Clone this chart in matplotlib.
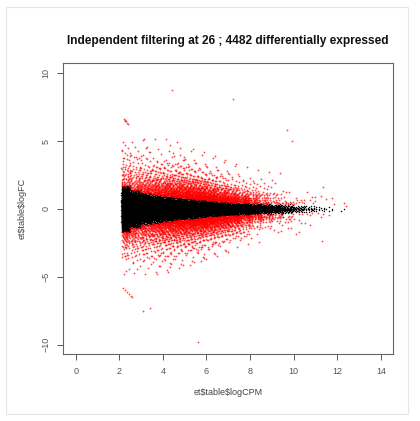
import numpy as np
import matplotlib
matplotlib.use('Agg')
import matplotlib.pyplot as plt
from matplotlib.patches import Rectangle

plt.rcParams['font.family'] = ['Liberation Sans', 'DejaVu Sans']

TITULO = "Independent filtering at 26 ; 4482 differentially expressed"

# Bins de logCPM (bordes) y resumen de la nube por bin
bin_lo = [2.1, 2.5, 3.0, 3.5, 4.0, 4.5, 5.0, 5.5, 6.0, 6.5, 7.0,
          7.5, 8.0, 8.5, 9.0, 9.5, 10.0, 10.5, 11.0, 11.5, 12.0]
bin_hi = [2.5, 3.0, 3.5, 4.0, 4.5, 5.0, 5.5, 6.0, 6.5, 7.0, 7.5,
          8.0, 8.5, 9.0, 9.5, 10.0, 10.5, 11.0, 11.5, 12.0, 12.4]
# genes no DE (negro) por bin
n_negro = [1700, 1300, 1050, 950, 850, 780, 700, 620, 540, 470, 400,
           330, 260, 190, 130, 85, 50, 28, 14, 6, 2]
# genes DE (rojo) por bin
n_rojo = [150, 200, 260, 320, 400, 450, 480, 492, 450, 390, 310,
          220, 140, 85, 48, 30, 16, 10, 6, 3, 1]
# semi-anchura de la banda de genes no DE
nucleo = [1.65, 1.35, 1.15, 1.05, 0.95, 0.85, 0.78, 0.7, 0.62, 0.55, 0.5,
          0.45, 0.4, 0.38, 0.35, 0.33, 0.3, 0.3, 0.28, 0.28, 0.25]
# |logFC| máximo de los DE por bin
extremo_rojo = [5.0, 5.0, 5.2, 5.2, 5.2, 5.0, 4.8, 4.6, 4.4, 4.1, 3.8,
                3.5, 3.3, 3.1, 3.0, 2.8, 2.5, 2.4, 2.2, 2.0, 1.0]
# caída de la densidad de DE fuera de la banda
escala_rojo = [1.0, 0.95, 0.9, 0.85, 0.8, 0.75, 0.7, 0.65, 0.6, 0.55, 0.5,
               0.47, 0.45, 0.43, 0.42, 0.42, 0.42, 0.42, 0.42, 0.42, 0.42]

# genes DE aislados
extra_cpm = [2.2, 2.25, 2.3, 2.35, 2.4, 2.28,
             2.15, 2.25, 2.35, 2.45, 2.55, 2.6,
             4.4, 7.2, 5.6, 9.7, 9.9, 3.4, 11.3, 12.4, 3.1]
extra_fc = [6.6, 6.5, 6.45, 6.35, 6.3, 6.55,
            -5.8, -5.95, -6.1, -6.25, -6.4, -6.5,
            8.8, 8.1, -9.8, 5.8, 5.0, -7.3, -2.4, 0.2, -7.5]


def secuencia(n, desfase, a):
    """Secuencia de baja discrepancia en (0, 1)"""
    i = np.arange(n) + 1 + desfase
    return (0.5 + i * a) % 1.0


A1, A2, A3 = 0.7548776662466927, 0.5698402909980532, 0.4142135623730950

negro_x, negro_y, rojo_x, rojo_y = [], [], [], []
for k in range(len(bin_lo)):
    w = bin_hi[k] - bin_lo[k]
    # no DE
    n = n_negro[k]
    u1 = secuencia(n, 97 * k, A1)
    u2 = np.clip(secuencia(n, 97 * k, A2), 1e-4, 1 - 1e-4)
    y = nucleo[k] * 0.35 * np.log(u2 / (1 - u2))
    ok = np.abs(y) <= nucleo[k] * 1.05
    negro_x.append(bin_lo[k] + u1[ok] * w)
    negro_y.append(y[ok])
    # DE: exponencial truncada entre la banda y el extremo del bin
    n = n_rojo[k]
    tramo = max(extremo_rojo[k] - nucleo[k], 0.1)
    esc = escala_rojo[k]
    u1 = secuencia(n, 53 * k + 11, A1)
    u2 = secuencia(n, 53 * k + 11, A2) * (1 - np.exp(-tramo / esc))
    s = np.where(secuencia(n, 53 * k + 11, A3) > 0.5, 1.0, -1.0)
    rojo_x.append(bin_lo[k] + u1 * w)
    rojo_y.append(s * (nucleo[k] - esc * np.log(1 - u2)))

negro_x = np.concatenate(negro_x)
negro_y = np.concatenate(negro_y)
rojo_x = np.concatenate(rojo_x + [np.array(extra_cpm)])
rojo_y = np.concatenate(rojo_y + [np.array(extra_fc)])

fig = plt.figure(figsize=(4.2, 4.21), dpi=100)
fig.patches.append(Rectangle((6 / 420, 1 - 414 / 421), 402 / 420, 407 / 421,
                             transform=fig.transFigure, fill=False,
                             ec='#e6e6e6', lw=0.8))
ax = fig.add_axes([0.15, 0.159, 0.786, 0.691])

ax.scatter(negro_x, negro_y, s=1.1, c='black', linewidths=0)
ax.scatter(rojo_x, rojo_y, s=1.7, c='red', linewidths=0, alpha=0.7)

ax.set_xlim(-0.58, 14.56)
ax.set_ylim(-10.7, 10.75)
ax.set_xticks(np.arange(0, 15, 2))
ax.set_yticks([-10, -5, 0, 5, 10])
ax.tick_params(direction='out', length=4, width=0.7, colors='#555555',
               labelsize=6.5, pad=5)
for lab in ax.get_yticklabels():
    lab.set_rotation(90)
    lab.set_va('center')
for sp in ax.spines.values():
    sp.set_color('#666666')
    sp.set_linewidth(0.8)

ax.set_xlabel("et$table$logCPM".replace('$', r'\$'), fontsize=6.5,
              color='#444444', labelpad=9)
ax.set_ylabel("et$table$logFC".replace('$', r'\$'), fontsize=6.5,
              color='#444444', labelpad=11)
ax.set_title(TITULO, fontsize=8.6, fontweight='bold', color='#111111', pad=14)

fig.savefig('out.png', dpi=100, facecolor='white')
